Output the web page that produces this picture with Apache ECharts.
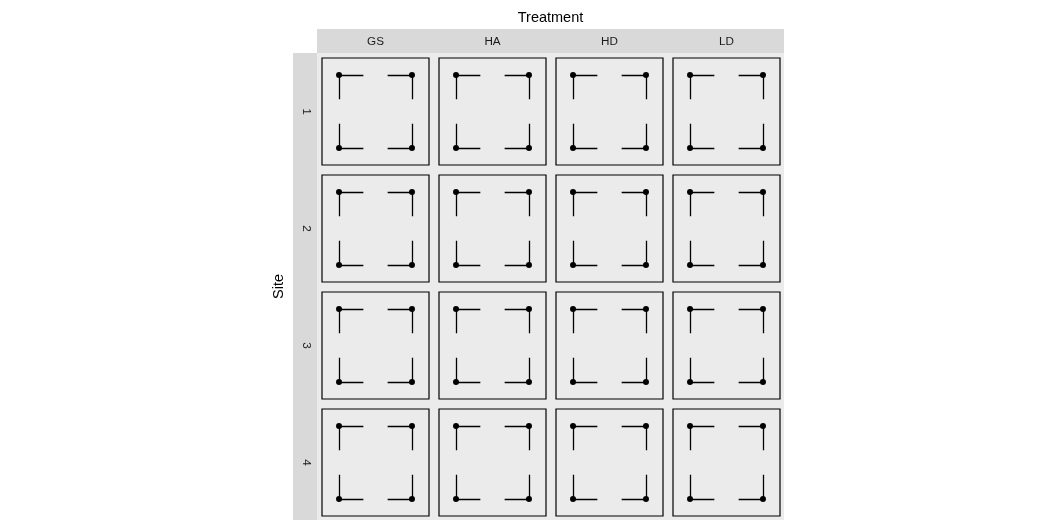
<!DOCTYPE html>
<html>
<head>
<meta charset="utf-8">
<script src="https://cdn.jsdelivr.net/npm/echarts@6/dist/echarts.min.js"></script>
<style>html,body{margin:0;padding:0;background:#fff}#c{width:1056px;height:528px}</style>
</head>
<body>
<div id="c"></div>
<script>
const treatments = ['GS', 'HA', 'HD', 'LD'];
const sites = ['1', '2', '3', '4'];
const cornerPoints = [[0, 3], [3, 3], [0, 0], [3, 0]];
const cornerSegments = [
  [[0, 3], [1, 3]], [[0, 3], [0, 2]],
  [[3, 3], [2, 3]], [[3, 3], [3, 2]],
  [[0, 0], [1, 0]], [[0, 0], [0, 1]],
  [[3, 0], [2, 0]], [[3, 0], [3, 1]]
];
const axisMin = -0.7, axisMax = 3.7;
const xTitle = 'Treatment', yTitle = 'Site';

const FONT = '"Liberation Sans", Arial, sans-serif';
const panelLeft = 317, panelTop = 53, panelRight = 784, panelBottom = 520;
const cell = 117, boxOff = 5, boxSize = 107;

const grids = [], xAxes = [], yAxes = [], series = [];
sites.forEach((s, r) => {
  treatments.forEach((t, c) => {
    const i = grids.length;
    grids.push({
      left: panelLeft + boxOff + c * cell, top: panelTop + boxOff + r * cell,
      width: boxSize, height: boxSize,
      show: true, backgroundColor: 'transparent', borderColor: '#000', borderWidth: 1.2
    });
    xAxes.push({ gridIndex: i, type: 'value', min: axisMin, max: axisMax, show: false });
    yAxes.push({ gridIndex: i, type: 'value', min: axisMin, max: axisMax, show: false });
    series.push({
      type: 'lines', coordinateSystem: 'cartesian2d', xAxisIndex: i, yAxisIndex: i,
      data: cornerSegments.map(seg => ({ coords: seg })),
      lineStyle: { color: '#000', width: 1.3, opacity: 1 }, silent: true, animation: false
    });
    series.push({
      type: 'scatter', xAxisIndex: i, yAxisIndex: i, data: cornerPoints,
      symbolSize: 6, itemStyle: { color: '#000', opacity: 1 }, silent: true, animation: false
    });
  });
});

const graphics = [
  { type: 'rect', shape: { x: panelLeft, y: panelTop, width: panelRight - panelLeft, height: panelBottom - panelTop }, style: { fill: '#EBEBEB' }, z: -10 },
  { type: 'rect', shape: { x: panelLeft, y: 29, width: panelRight - panelLeft, height: 24 }, style: { fill: '#D9D9D9' }, z: -10 },
  { type: 'rect', shape: { x: 293, y: panelTop, width: 24, height: panelBottom - panelTop }, style: { fill: '#D9D9D9' }, z: -10 },
  { type: 'text', x: (panelLeft + panelRight) / 2, y: 18, style: { text: xTitle, font: '14.5px ' + FONT, fill: '#000', textAlign: 'center', textVerticalAlign: 'middle' } },
  { type: 'text', x: 279, y: (panelTop + panelBottom) / 2, rotation: Math.PI / 2, style: { text: yTitle, font: '14.5px ' + FONT, fill: '#000', textAlign: 'center', textVerticalAlign: 'middle' } }
];
treatments.forEach((t, c) => {
  graphics.push({ type: 'text', x: panelLeft + boxOff + c * cell + boxSize / 2, y: 41.5, style: { text: t, font: '11.7px ' + FONT, fill: '#1A1A1A', textAlign: 'center', textVerticalAlign: 'middle' } });
});
sites.forEach((s, r) => {
  graphics.push({ type: 'text', x: 306, y: panelTop + boxOff + r * cell + boxSize / 2, rotation: -Math.PI / 2, style: { text: s, font: '11.7px ' + FONT, fill: '#1A1A1A', textAlign: 'center', textVerticalAlign: 'middle' } });
});

const chart = echarts.init(document.getElementById('c'), null, { renderer: 'canvas' });
chart.setOption({
  animation: false,
  grid: grids, xAxis: xAxes, yAxis: yAxes, series: series,
  graphic: { elements: graphics }
});
</script>
</body>
</html>
